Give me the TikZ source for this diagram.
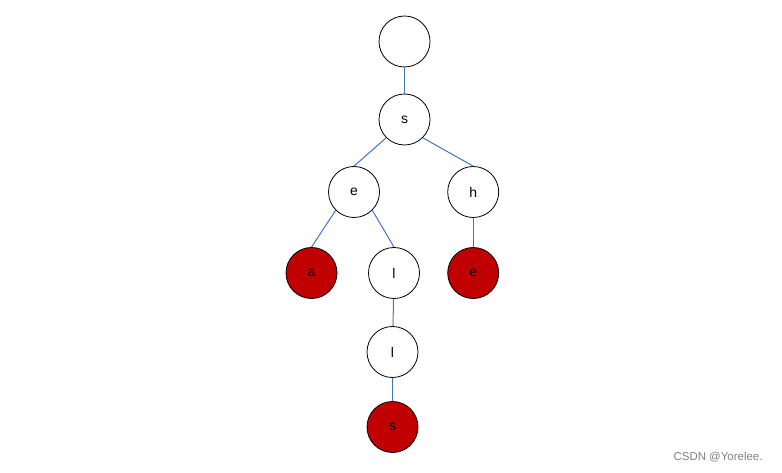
\documentclass[tikz,border=0pt]{standalone}
\usepackage{fontspec}
\setmainfont{Liberation Sans}
\definecolor{edgeblue}{HTML}{4472C4}
\definecolor{leafred}{HTML}{C00000}
\begin{document}
\begin{tikzpicture}[x=1bp,y=-1bp,
  tnode/.style={circle,draw=black,line width=0.8bp,minimum size=51bp,inner sep=0pt,fill=white,font=\fontsize{14}{16}\selectfont},
  endnode/.style={tnode,fill=leafred},
  edge/.style={draw=edgeblue,line width=1bp}]
\useasboundingbox (0,0) rectangle (782,473);
\node[tnode] (root) at (404.5,41.5) {};
\node[tnode] (s) at (404.5,119.5) {s};
\node[tnode] (e) at (354,192) {e};
\node[tnode] (h) at (473.2,192) {h};
\node[endnode] (a) at (311.5,273) {a};
\node[tnode] (l1) at (394,273) {l};
\node[endnode] (e2) at (473.2,273) {e};
\node[tnode] (l2) at (392.5,352) {l};
\node[endnode] (s2) at (392.5,427) {s};
\path[edge] (root) -- (s);
\path[edge] (s.south west) -- (e.north);
\path[edge] (s.south east) -- (h.north);
\path[edge] (e.south west) -- (a.north);
\path[edge] (e.south east) -- (l1.north);
\path[edge] (h) -- (e2);
\path[edge] (l1) -- (l2);
\path[edge] (l2) -- (s2);
\node[text=black!50,font=\fontsize{11.5}{13}\selectfont,anchor=east] (wm) at (766,457) {CSDN @Yorelee.};
\end{tikzpicture}
\end{document}
